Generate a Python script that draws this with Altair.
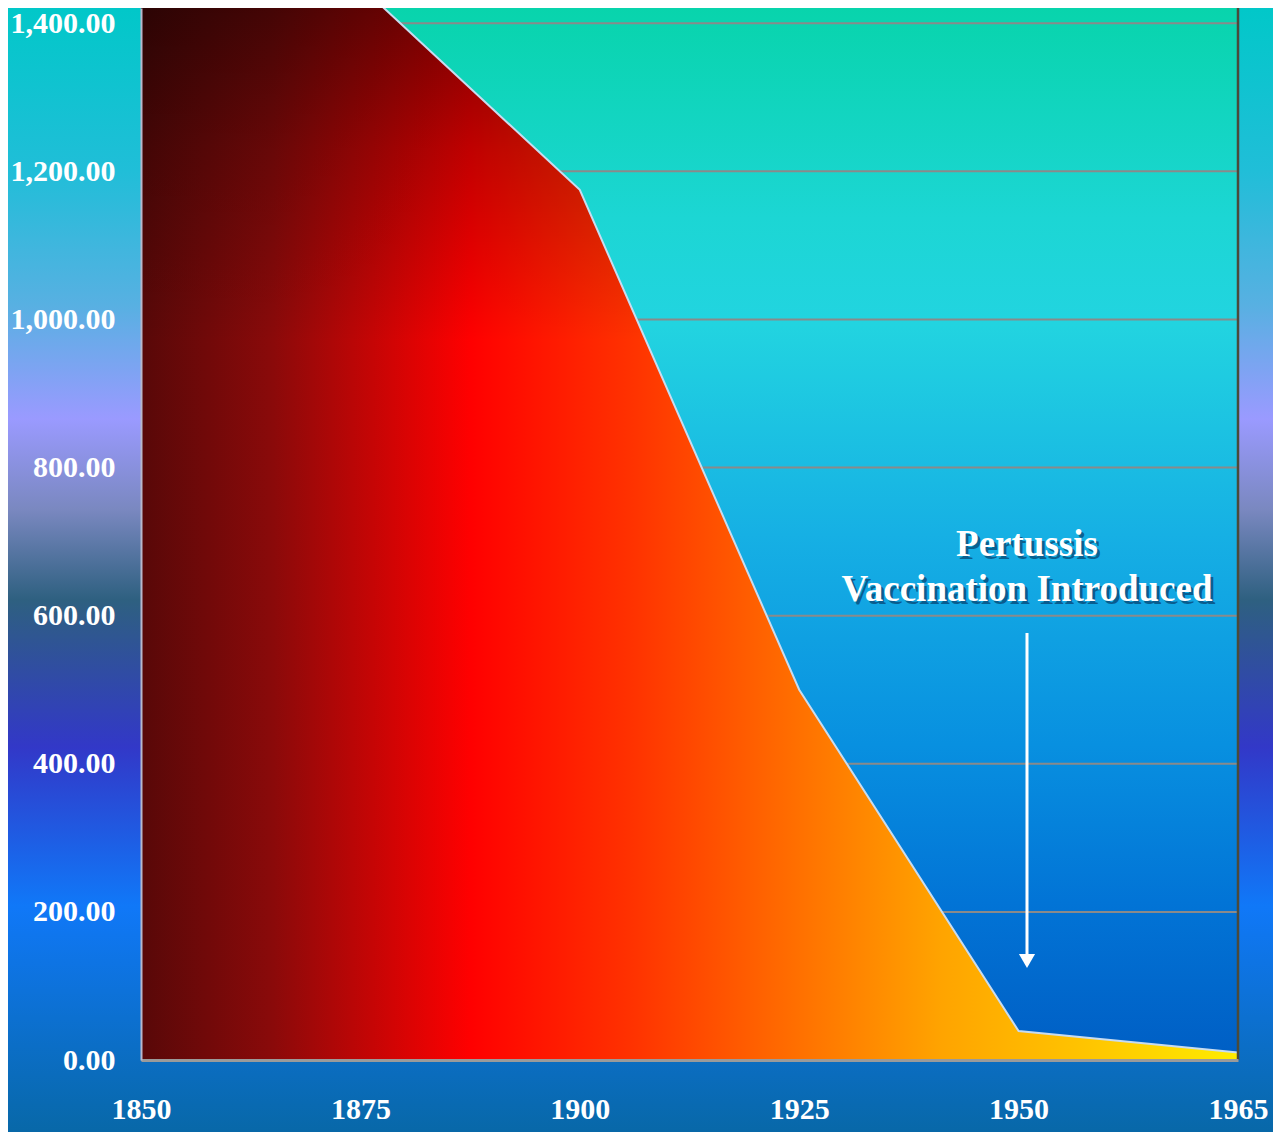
import altair as alt
import pandas as pd

# ---- data ----
years = ["1850", "1875", "1900", "1925", "1950", "1965"]
deaths = [1427, 1450, 1175, 500, 39, 10]
y_ticks = [0, 200, 400, 600, 800, 1000, 1200, 1400]
note_lines = ["Pertussis", "Vaccination Introduced"]

W, H = 1097, 1052
PL, PT, PR, PB = 133, 0, 35, 72
FONT = "Liberation Serif"

df = pd.DataFrame({"year": years, "deaths": deaths})
ticks = pd.DataFrame({"v": y_ticks})
one = pd.DataFrame({"a": [0]})


def grad(stops, vertical=True):
    return alt.LinearGradient(
        gradient="linear",
        stops=[alt.GradientStop(offset=o, color=c) for o, c in stops],
        x1=0, x2=0 if vertical else 1, y1=0, y2=1 if vertical else 0,
    )


outer_bg = alt.Chart(one).mark_rect(color=grad([
    (0.0, "#00c8c8"), (0.15, "#20bed8"), (0.27, "#58b0e2"), (0.37, "#9a9aff"),
    (0.45, "#7a88c0"), (0.53, "#2e6080"), (0.66, "#3238c8"), (0.80, "#1078f8"),
    (1.0, "#0868a8")])).encode(
    x=alt.value(-PL), x2=alt.value(W + PR), y=alt.value(-8), y2=alt.value(H + PB))

plot_bg = alt.Chart(one).mark_rect(color=grad([
    (0.0, "#08d4ac"), (0.2, "#1cd6d4"), (0.3, "#22d4e0"), (0.5, "#16b0e4"),
    (0.7, "#0890e0"), (0.85, "#0274d6"), (1.0, "#005ec4")])).encode(
    x=alt.value(0), x2=alt.value(W), y=alt.value(0), y2=alt.value(H))

yscale = alt.Scale(domain=[0, 1420.6], nice=False, zero=True)
xscale = alt.Scale(type="point", padding=0)

grid = alt.Chart(ticks).mark_rule(color="#8a8a8a", strokeWidth=2).encode(
    y=alt.Y("v:Q", scale=yscale), x=alt.value(0), x2=alt.value(W))

area = alt.Chart(df).mark_area(clip=True, color=grad([
    (0.0, "#580808"), (0.12, "#8a0a0a"), (0.3, "#ff0000"), (0.45, "#ff3300"),
    (0.6, "#ff7000"), (0.73, "#ffa400"), (0.86, "#ffc400"), (1.0, "#ffec00")],
    vertical=False)).encode(
    x=alt.X("year:O", scale=xscale, sort=None,
            axis=alt.Axis(title="", labelAngle=0, labelFont=FONT, labelFontSize=30,
                          labelFontWeight="bold", labelColor="white", ticks=False,
                          labelPadding=34, domainColor="#9a9a9a", domainWidth=3,
                          zindex=1, grid=False)),
    y=alt.Y("deaths:Q", scale=yscale,
            axis=alt.Axis(title="", values=y_ticks, format=",.2f", labelFont=FONT,
                          labelFontSize=30, labelFontWeight="bold", labelColor="white",
                          ticks=False, labelPadding=26, domainColor="#b8b8cc",
                          domainWidth=2, zindex=1, grid=False)),
)

shade = alt.Chart(df).mark_area(clip=True, color=grad([
    (0.0, "rgba(0,0,0,0.55)"), (0.15, "rgba(0,0,0,0.25)"), (0.33, "rgba(0,0,0,0)"),
    (1.0, "rgba(0,0,0,0)")])).encode(
    x=alt.X("year:O", scale=xscale, sort=None), y=alt.Y("deaths:Q", scale=yscale))

edge = alt.Chart(df).mark_line(clip=True, color="#c8dcf0", strokeWidth=2).encode(
    x=alt.X("year:O", scale=xscale, sort=None), y=alt.Y("deaths:Q", scale=yscale))

right_border = alt.Chart(one).mark_rule(color="#4a4a3a", strokeWidth=2.5).encode(
    x=alt.value(W), y=alt.value(0), y2=alt.value(H))

note_shadow = alt.Chart(one).mark_text(
    text=note_lines, font=FONT, fontSize=37, fontWeight="bold", color="rgba(0,20,60,0.5)",
    align="center", baseline="middle", lineHeight=45).encode(
    x=alt.value(886 + 3), y=alt.value(537 + 3))
note = alt.Chart(one).mark_text(
    text=note_lines, font=FONT, fontSize=37, fontWeight="bold", color="white",
    align="center", baseline="middle", lineHeight=45).encode(
    x=alt.value(886), y=alt.value(537))

arrow_line = alt.Chart(one).mark_rule(color="white", strokeWidth=3).encode(
    x=alt.value(886), y=alt.value(625), y2=alt.value(948))
arrow_head = alt.Chart(one).mark_point(
    shape="triangle-down", filled=True, color="white", opacity=1, size=260).encode(
    x=alt.value(886), y=alt.value(953))

chart = alt.layer(
    outer_bg, plot_bg, grid, area, shade, edge, right_border,
    note_shadow, note, arrow_line, arrow_head,
).properties(
    width=W, height=H,
    autosize=alt.AutoSizeParams(type="none"),
    padding={"left": PL, "top": PT, "right": PR, "bottom": PB},
    background="#0868a8",
).configure_view(stroke="transparent")

chart.save("out.html", embed_options={"renderer": "svg", "actions": False})
